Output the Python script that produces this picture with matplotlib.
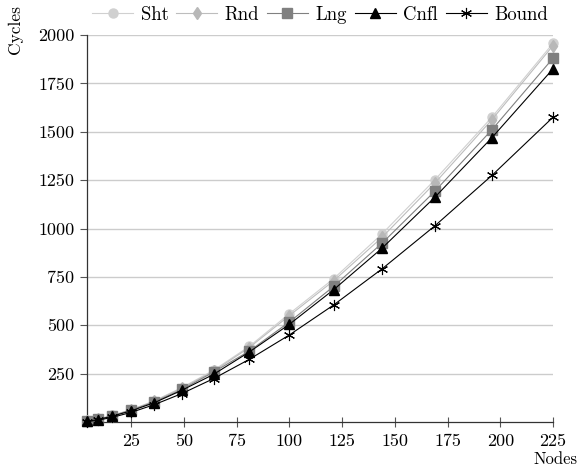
import matplotlib.pyplot as plt

plt.rcParams['font.family'] = 'cmr10'
plt.rcParams['axes.unicode_minus'] = False
plt.rcParams['mathtext.fontset'] = 'cm'

# data
nodes = [4, 9, 16, 25, 36, 49, 64, 81, 100, 121, 144, 169, 196, 225]
sht = [5, 14, 34, 64, 110, 178, 267, 391, 560, 741, 973, 1252, 1575, 1957]
rnd = [5, 14, 33, 63, 107, 175, 262, 385, 550, 730, 955, 1235, 1562, 1945]
lng = [4, 13, 32, 61, 104, 168, 258, 367, 517, 701, 925, 1193, 1510, 1880]
cnfl = [4, 12, 30, 58, 100, 164, 246, 362, 505, 684, 899, 1162, 1469, 1825]
bound = [2, 9, 24, 50, 90, 147, 224, 324, 450, 605, 792, 1014, 1274, 1575]

xticks = [25, 50, 75, 100, 125, 150, 175, 200, 225]
yticks = [250, 500, 750, 1000, 1250, 1500, 1750, 2000]

fig = plt.figure(figsize=(5.81, 4.68), dpi=100)
ax = fig.add_axes([87/581, 1-422/468, 466/581, 387/468])

ax.plot(nodes, sht, color='#d0d0d0', lw=0.8, marker='o', ms=6.5,
        mec='#d0d0d0', mfc='#d0d0d0', label='Sht', clip_on=False, zorder=3)
ax.plot(nodes, rnd, color='#bdbdbd', lw=0.8, marker='d', ms=6.5,
        mec='#b8b8b8', mfc='#b8b8b8', label='Rnd', clip_on=False, zorder=4)
ax.plot(nodes, lng, color='#808080', lw=0.8, marker='s', ms=6.5,
        mec='#808080', mfc='#808080', label='Lng', clip_on=False, zorder=5)
ax.plot(nodes, cnfl, color='black', lw=0.8, marker='^', ms=6.5,
        mec='black', mfc='black', label='Cnfl', clip_on=False, zorder=6)
ax.plot(nodes, bound, color='black', lw=0.8, marker=(6, 2, 0), ms=8,
        mec='black', mew=0.8, label='Bound', clip_on=False, zorder=7)

ax.set_xlim(4, 225)
ax.set_ylim(0, 2000)
ax.set_xticks(xticks)
ax.set_yticks(yticks)
ax.grid(axis='y', color='#cccccc', lw=1)
ax.set_axisbelow(True)

for s in ['top', 'right']:
    ax.spines[s].set_visible(False)
for s in ['left', 'bottom']:
    ax.spines[s].set_color('#333333')
    ax.spines[s].set_linewidth(0.9)

ax.tick_params(axis='x', direction='inout', length=7, width=0.8,
               color='#555555', labelsize=13, pad=5)
ax.tick_params(axis='y', direction='out', length=5, width=0.8,
               color='#555555', labelsize=13, pad=4)

fig.text(15/581, 1-30/468, 'Cycles', fontsize=12.5, rotation=90,
         ha='center', va='center')
fig.text(578/581, 1-459/468, 'Nodes', fontsize=12, ha='right', va='center')

ax.legend(loc='lower center', bbox_to_anchor=(0.5, 1.0), ncol=5,
          frameon=False, fontsize=13.5, handlelength=2.2, handletextpad=0.4,
          columnspacing=0.4, borderaxespad=0.2)

fig.savefig('out.png', dpi=100)
